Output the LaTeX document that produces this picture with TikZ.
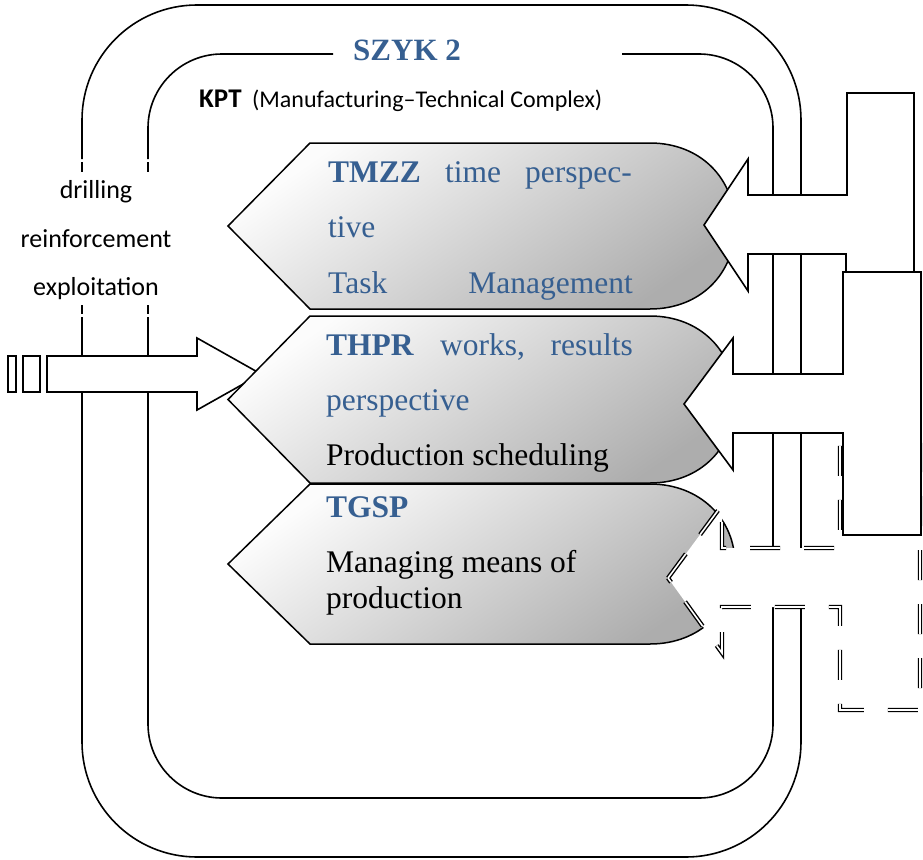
\documentclass[tikz,border=0pt]{standalone}
\usepackage{fontspec}
\setmainfont{Liberation Serif}
\newfontfamily\labelfont{Carlito}
\definecolor{headblue}{RGB}{54,95,145}

\begin{document}
\begin{tikzpicture}[x=1pt,y=-1pt,line join=miter,
  loopline/.style={line width=1.6pt},
  panel/.style={draw=black,line width=1.5pt,top color=gray!2,bottom color=gray!64,shading angle=35},
  feed/.style={draw=black,fill=white,line width=1.6pt},
  dashfeed/.style={draw=black,fill=white,line width=1.4pt,double,double distance=1.6pt,dash pattern=on 30pt off 24pt},
  word/.style={anchor=base west,inner sep=0pt,font=\fontsize{31.5}{36}\selectfont},
  bword/.style={word,font=\fontsize{31.5}{36}\selectfont\bfseries},
  side/.style={anchor=base,inner sep=0pt,font=\labelfont\fontsize{26}{30}\selectfont},
]
\useasboundingbox (0,0) rectangle (923,859);

% outer loop
\draw[loopline,rounded corners=115pt] (82,159) -- (82,5) -- (801,5) -- (801,857) -- (82,857) -- (82,317);
% inner loop, open at the title
\draw[loopline,rounded corners=74pt] (148,159) -- (148,54) -- (333,54);
\draw[loopline,rounded corners=74pt] (622,54) -- (773,54) -- (773,798) -- (148,798) -- (148,317);
% short pieces around the side labels
\foreach \lx in {82,148}{
  \draw[loopline] (\lx,162) -- (\lx,172);
  \draw[loopline] (\lx,305) -- (\lx,314);
}

% input arrow from the left
\draw[feed] (8,356) rectangle (16,392);
\draw[feed] (23,356) rectangle (40,392);
\draw[feed] (47,356) -- (197,356) -- (197,338) -- (261,374) -- (197,410) -- (197,392) -- (47,392) -- cycle;

% the three panels
\foreach \t/\m/\b in {143/226/309, 316/399.5/483, 484/564/644}{
  \draw[panel] (310,\t) -- (650,\t) .. controls (700,\t) and (735,\t+35) .. (735,\m)
     .. controls (735,\b-35) and (700,\b) .. (650,\b) -- (310,\b) -- (228,\m) -- cycle;
}

% feedback arrows from the right
\draw[dashfeed] (668,578) -- (722,505) -- (722,548) -- (840,548) -- (840,445) -- (920,445)
  -- (920,710) -- (840,710) -- (840,607) -- (722,607) -- (722,653) -- cycle;
\draw[feed] (704,225) -- (748,159) -- (748,195) -- (847,195) -- (847,93) -- (914,93)
  -- (914,272) -- (846,272) -- (846,254) -- (748,254) -- (748,291) -- cycle;
\draw[feed] (684,404) -- (733,338) -- (733,374) -- (843,374) -- (843,272) -- (921,272)
  -- (921,535) -- (843,535) -- (843,433) -- (733,433) -- (733,470) -- cycle;

% titles
\node[anchor=base west,inner sep=0pt,text=headblue,font=\fontsize{31}{36}\selectfont\bfseries] (title) at (353,60) {SZYK 2};
\node[anchor=base west,inner sep=0pt,font=\labelfont\fontsize{27}{30}\selectfont\bfseries] (kpt) at (199,107) {KPT};
\node[anchor=base west,inner sep=0pt,font=\labelfont\fontsize{24}{28}\selectfont] (kptname) at (252,107) {(Manufacturing–Technical Complex)};

% side labels
\node[side] (drill) at (96,198) {drilling};
\node[side] (reinf) at (96,247) {reinforcement};
\node[side] (expl) at (96,295) {exploitation};

% panel 1 text
\begin{scope}[text=headblue]
\node[bword] (tmzz) at (328,182) {TMZZ};
\node[word] (w1a) at (445,182) {time};
\node[word] (w1b) at (525,182) {perspec-};
\node[word] (w1c) at (328,237) {tive};
\node[word] (w1d) at (328,293) {Task};
\node[word,anchor=base east] (w1e) at (633,293) {Management};
% panel 2 text
\node[bword] (thpr) at (326,355) {THPR};
\node[word] (w2a) at (440,355) {works,};
\node[word,anchor=base east] (w2b) at (633,355) {results};
\node[word] (w2c) at (326,410) {perspective};
% panel 3 heading
\node[bword] (tgsp) at (326,517) {TGSP};
\end{scope}
\node[word] (w2d) at (326,465) {Production scheduling};
\node[word] (w3a) at (326,572) {Managing means of};
\node[word] (w3b) at (326,608) {production};
\end{tikzpicture}
\end{document}
